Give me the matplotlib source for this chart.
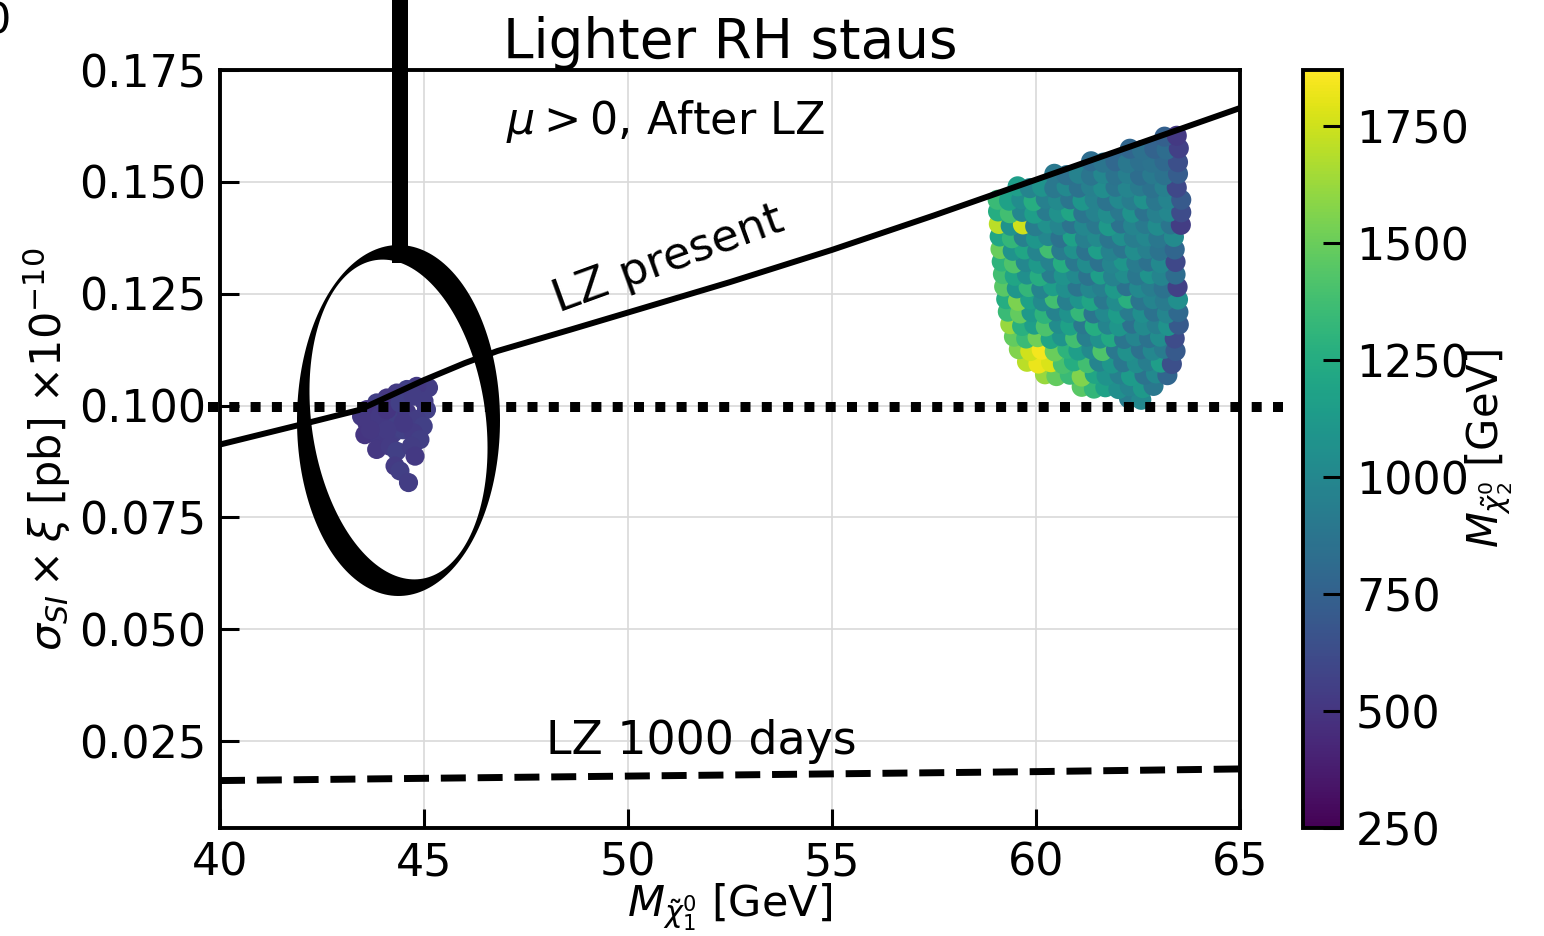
import numpy as np
import matplotlib
matplotlib.use('Agg')
import matplotlib.pyplot as plt
from matplotlib.path import Path
from matplotlib.patches import PathPatch, Rectangle
from matplotlib.transforms import Affine2D

# ---- data ----
# LZ present limit
lz_x = [40, 42, 43.4, 44.0, 45.0, 46.0, 46.8, 48.6, 50, 52.5, 55, 57.5, 60, 62.5, 65]
lz_y = [0.0913, 0.0958, 0.0990, 0.1015, 0.1057, 0.1095, 0.1122, 0.1170, 0.1208,
        0.1276, 0.1348, 0.1425, 0.1505, 0.1585, 0.1665]

# LZ 1000 days projection
lz1000_x = [40, 45, 50, 55, 60, 65]
lz1000_y = [0.0162, 0.0167, 0.0172, 0.0177, 0.0182, 0.0188]

# horizontal reference
ref_level = 0.0996

# lighter cluster (M_chi1 ~ 44-45 GeV)
left_x = [45.11, 44.82, 44.58, 44.33, 44.09, 43.84, 43.60, 43.47, 45.06, 45.00,
          43.60, 43.92, 44.25, 44.58, 44.82, 44.98, 43.55, 43.92, 44.25, 44.49,
          44.74, 44.90, 43.84, 44.17, 44.33, 44.69, 44.78, 44.29, 44.41, 44.62,
          43.92, 44.09, 44.41, 44.74, 44.49, 44.09, 43.68]
left_y = [0.1040, 0.1043, 0.1036, 0.1028, 0.1017, 0.1006, 0.0991, 0.0976, 0.0991, 0.1010,
          0.0961, 0.0961, 0.0976, 0.0984, 0.0969, 0.0954, 0.0935, 0.0924, 0.0939, 0.0946,
          0.0939, 0.0924, 0.0902, 0.0909, 0.0898, 0.0909, 0.0887, 0.0865, 0.0854, 0.0828,
          0.0976, 0.0991, 0.1006, 0.1021, 0.0961, 0.0946, 0.0946]
left_c = [540, 520, 560, 530, 510, 550, 500, 520, 560, 540,
          510, 530, 550, 520, 540, 560, 500, 520, 540, 560,
          530, 550, 510, 530, 560, 540, 520, 530, 550, 540,
          520, 500, 560, 540, 520, 530, 510]

# heavier cluster (M_chi1 ~ 59-64 GeV), written row by row from the bottom
right_x = [
    62.28, 62.58,
    61.12, 61.42, 61.70, 62.02, 62.30, 62.62, 62.88,
    60.22, 60.50, 60.83, 61.12, 61.44, 61.73, 62.05, 62.33, 62.66, 62.94, 63.22,
    59.78, 60.06, 60.37, 60.66, 60.93, 61.27, 61.55, 61.86, 62.14, 62.47, 62.74, 63.06, 63.33,
    59.58, 59.86, 60.14, 60.46, 60.77, 61.04, 61.36, 61.63, 61.96, 62.24, 62.57, 62.86, 63.14, 63.42,
    59.46, 59.76, 60.04, 60.36, 60.64, 60.96, 61.24, 61.57, 61.84, 62.16, 62.44, 62.77, 63.04, 63.40,
    59.37, 59.66, 59.96, 60.24, 60.56, 60.84, 61.16, 61.44, 61.76, 62.04, 62.36, 62.64, 62.96, 63.24, 63.50,
    59.31, 59.61, 59.89, 60.21, 60.49, 60.81, 61.09, 61.41, 61.69, 62.01, 62.29, 62.61, 62.89, 63.21, 63.49,
    59.27, 59.56, 59.86, 60.17, 60.46, 60.76, 61.07, 61.36, 61.66, 61.97, 62.26, 62.56, 62.87, 63.16, 63.48,
    59.22, 59.53, 59.82, 60.13, 60.42, 60.73, 61.02, 61.33, 61.62, 61.93, 62.22, 62.53, 62.82, 63.13, 63.47,
    59.19, 59.48, 59.78, 60.09, 60.38, 60.68, 60.99, 61.28, 61.58, 61.89, 62.18, 62.48, 62.79, 63.08, 63.42,
    59.16, 59.46, 59.75, 60.06, 60.35, 60.66, 60.96, 61.25, 61.56, 61.86, 62.15, 62.46, 62.76, 63.06, 63.42,
    59.13, 59.43, 59.72, 60.03, 60.33, 60.62, 60.93, 61.23, 61.52, 61.83, 62.13, 62.42, 62.73, 63.03, 63.40,
    59.11, 59.41, 59.70, 60.00, 60.30, 60.60, 60.90, 61.20, 61.50, 61.80, 62.10, 62.40, 62.70, 63.00, 63.38,
    59.09, 59.38, 59.68, 59.98, 60.28, 60.58, 60.88, 61.18, 61.48, 61.78, 62.08, 62.38, 62.68, 62.98, 63.30, 63.55,
    59.07, 59.36, 59.66, 59.96, 60.26, 60.56, 60.86, 61.16, 61.46, 61.76, 62.06, 62.36, 62.66, 62.96, 63.26, 63.56,
    59.06, 59.34, 59.64, 59.94, 60.24, 60.54, 60.84, 61.14, 61.44, 61.74, 62.04, 62.34, 62.64, 62.94, 63.24, 63.56,
    59.55, 59.85, 60.15, 60.45, 60.75, 61.05, 61.35, 61.65, 61.95, 62.25, 62.55, 62.85, 63.15, 63.45,
    60.45, 60.75, 61.05, 61.35, 61.65, 61.95, 62.25, 62.55, 62.85, 63.15, 63.48,
    61.35, 61.65, 61.95, 62.25, 62.55, 62.85, 63.15, 63.48,
    62.30, 62.60, 62.90, 63.20, 63.50,
    63.15, 63.45,
]
right_y = [
    0.1016, 0.1013,
    0.1042, 0.1038, 0.1041, 0.1037, 0.1043, 0.1039, 0.1044,
    0.1070, 0.1066, 0.1069, 0.1065, 0.1071, 0.1067, 0.1070, 0.1066, 0.1069, 0.1072, 0.1068,
    0.1098, 0.1094, 0.1097, 0.1093, 0.1099, 0.1095, 0.1098, 0.1094, 0.1097, 0.1095, 0.1099, 0.1096, 0.1093,
    0.1126, 0.1122, 0.1125, 0.1121, 0.1127, 0.1123, 0.1126, 0.1122, 0.1125, 0.1121, 0.1126, 0.1123, 0.1127, 0.1122,
    0.1154, 0.1150, 0.1153, 0.1149, 0.1155, 0.1151, 0.1154, 0.1150, 0.1153, 0.1149, 0.1155, 0.1151, 0.1154, 0.1150,
    0.1182, 0.1178, 0.1181, 0.1177, 0.1183, 0.1179, 0.1182, 0.1178, 0.1181, 0.1177, 0.1183, 0.1179, 0.1182, 0.1178, 0.1181,
    0.1210, 0.1206, 0.1209, 0.1205, 0.1211, 0.1207, 0.1210, 0.1206, 0.1209, 0.1205, 0.1211, 0.1207, 0.1210, 0.1206, 0.1209,
    0.1238, 0.1234, 0.1237, 0.1233, 0.1239, 0.1235, 0.1238, 0.1234, 0.1237, 0.1233, 0.1239, 0.1235, 0.1238, 0.1234, 0.1237,
    0.1266, 0.1262, 0.1265, 0.1261, 0.1267, 0.1263, 0.1266, 0.1262, 0.1265, 0.1261, 0.1267, 0.1263, 0.1266, 0.1262, 0.1265,
    0.1294, 0.1290, 0.1293, 0.1289, 0.1295, 0.1291, 0.1294, 0.1290, 0.1293, 0.1289, 0.1295, 0.1291, 0.1294, 0.1290, 0.1293,
    0.1322, 0.1318, 0.1321, 0.1317, 0.1323, 0.1319, 0.1322, 0.1318, 0.1321, 0.1317, 0.1323, 0.1319, 0.1322, 0.1318, 0.1321,
    0.1350, 0.1346, 0.1349, 0.1345, 0.1351, 0.1347, 0.1350, 0.1346, 0.1349, 0.1345, 0.1351, 0.1347, 0.1350, 0.1346, 0.1349,
    0.1378, 0.1374, 0.1377, 0.1373, 0.1379, 0.1375, 0.1378, 0.1374, 0.1377, 0.1373, 0.1379, 0.1375, 0.1378, 0.1374, 0.1377,
    0.1406, 0.1402, 0.1405, 0.1401, 0.1407, 0.1403, 0.1406, 0.1402, 0.1405, 0.1401, 0.1407, 0.1403, 0.1406, 0.1402, 0.1405, 0.1404,
    0.1434, 0.1430, 0.1433, 0.1429, 0.1435, 0.1431, 0.1434, 0.1430, 0.1433, 0.1429, 0.1435, 0.1431, 0.1434, 0.1430, 0.1433, 0.1432,
    0.1460, 0.1458, 0.1461, 0.1457, 0.1462, 0.1459, 0.1461, 0.1458, 0.1461, 0.1457, 0.1462, 0.1459, 0.1461, 0.1458, 0.1461, 0.1460,
    0.1490, 0.1486, 0.1489, 0.1486, 0.1490, 0.1487, 0.1490, 0.1486, 0.1489, 0.1487, 0.1490, 0.1486, 0.1489, 0.1487,
    0.1518, 0.1515, 0.1518, 0.1514, 0.1518, 0.1515, 0.1518, 0.1514, 0.1517, 0.1515, 0.1518,
    0.1546, 0.1543, 0.1546, 0.1542, 0.1546, 0.1543, 0.1546, 0.1544,
    0.1574, 0.1571, 0.1574, 0.1572, 0.1575,
    0.1601, 0.1603,
]
right_c = [
    930, 1010,
    1450, 1320, 1180, 1050, 980, 1120, 900,
    1620, 1480, 1350, 1560, 1200, 1080, 950, 1130, 870, 1010, 780,
    1700, 1820, 1780, 1400, 1250, 1380, 980, 1100, 890, 1040, 930, 1150, 640,
    1560, 1750, 1840, 1500, 1300, 1150, 1020, 1420, 900, 1060, 850, 1000, 920, 700,
    1480, 1350, 1520, 1200, 1080, 1380, 940, 1060, 1230, 880, 990, 860, 1040, 620,
    1620, 1280, 1150, 1410, 1030, 1180, 900, 1250, 980, 1100, 850, 1020, 940, 1080, 700,
    1350, 1480, 1120, 1300, 960, 1070, 1330, 880, 1010, 1140, 920, 1050, 860, 990, 800,
    1250, 1550, 1180, 1020, 1380, 940, 1090, 1200, 900, 1030, 1280, 880, 980, 920, 1050,
    1450, 1100, 1320, 980, 1150, 1050, 880, 1000, 940, 1120, 860, 1010, 930, 860, 560,
    1380, 1200, 1050, 1260, 930, 1080, 1010, 870, 1150, 960, 1040, 890, 1080, 980, 820,
    1300, 1420, 1000, 1120, 960, 1250, 900, 1030, 860, 990, 1100, 920, 850, 1010, 600,
    1500, 1080, 1200, 980, 1380, 920, 1060, 870, 1150, 960, 880, 1040, 950, 870, 780,
    1200, 1320, 950, 1100, 1000, 860, 1180, 940, 1020, 880, 1050, 930, 1000, 890, 1020,
    1700, 1080, 1750, 930, 1060, 990, 870, 1000, 900, 1120, 860, 980, 910, 1030, 880, 540,
    1250, 1380, 1000, 1150, 920, 1060, 1200, 880, 970, 1040, 900, 1080, 860, 950, 1000, 620,
    1350, 1180, 1040, 1260, 950, 1020, 880, 1100, 960, 870, 1010, 930, 1060, 890, 980, 700,
    1150, 980, 1080, 900, 1010, 860, 950, 1040, 880, 990, 920, 860, 950, 600,
    900, 850, 960, 880, 1000, 870, 940, 820, 910, 860, 720,
    820, 880, 790, 900, 840, 870, 800, 640,
    780, 850, 760, 820, 560,
    740, 520,
]

xticks = [40, 45, 50, 55, 60, 65]
yticks = [0.025, 0.050, 0.075, 0.100, 0.125, 0.150, 0.175]
cticks = [250, 500, 750, 1000, 1250, 1500, 1750]

# ---- plot ----
plt.rcParams.update({'font.family': 'DejaVu Sans', 'font.size': 32})

W, H = 1544, 936
fig = plt.figure(figsize=(W / 100, H / 100), dpi=100)
ax = fig.add_axes([220 / W, 1 - 828 / H, 1020 / W, 758 / H])
cax = fig.add_axes([1303 / W, 1 - 828 / H, 39 / W, 758 / H])

ax.grid(color='#d9d9d9', lw=1.2, zorder=0)
ax.set_axisbelow(True)

sc = ax.scatter(right_x, right_y, c=right_c, cmap='viridis', vmin=250, vmax=1870,
                s=210, edgecolors='none', zorder=2)
ax.scatter(left_x, left_y, c=left_c, cmap='viridis', vmin=250, vmax=1870,
           s=190, edgecolors='none', zorder=2)

ax.plot(lz_x, lz_y, color='black', lw=4.3, zorder=3, solid_capstyle='butt')
ax.plot(lz1000_x, lz1000_y, color='black', lw=5, ls=(0, (3.6, 1.7)), zorder=3)
ax.plot([39.7, 66.05], [ref_level, ref_level], color='black', lw=7.2,
        ls=(0, (1.0, 1.13)), clip_on=False, zorder=3)

ax.text(50.98, 0.1326, 'LZ present', rotation=20, rotation_mode='anchor',
        ha='center', va='center', fontsize=32.5)
ax.text(51.8, 0.0250, 'LZ 1000 days', ha='center', va='center', fontsize=33)
ax.text(47.0, 0.1634, r'$\mu > 0$, After LZ', ha='left', va='center', fontsize=32)

ax.set_xlim(40, 65)
ax.set_ylim(0.0056, 0.175)
ax.set_xticks(xticks)
ax.set_yticks(yticks)
ax.set_yticklabels(['%.3f' % v for v in yticks])
ax.tick_params(direction='in', length=14, width=2.2, pad=10, labelsize=32)
for s in ax.spines.values():
    s.set_linewidth(2.8)

ax.set_title('Lighter RH staus', fontsize=39.5, pad=6)
ax.set_xlabel(r'$M_{\tilde{\chi}_1^0}$ [GeV]', fontsize=31, labelpad=-3)
ax.set_ylabel(r'$\sigma_{SI}\times\xi$ [pb] $\times 10^{-10}$', fontsize=31, labelpad=4)

cbar = fig.colorbar(sc, cax=cax, ticks=cticks)
cbar.ax.tick_params(direction='in', length=14, width=2.2, pad=10, labelsize=32)
cbar.outline.set_linewidth(2.8)
cbar.set_label(r'$M_{\tilde{\chi}_2^0}$ [GeV]', fontsize=30, labelpad=-4)

# hand-drawn style ring and pointer around the light cluster (pixel coords)
px = Affine2D().scale(1 / W, 1 / H) + fig.transFigure


def ellipse_pts(cx, cy, a, b, ang):
    t = np.linspace(0, 2 * np.pi, 200)
    ca, sa = np.cos(np.radians(ang)), np.sin(np.radians(ang))
    ex, ey = a * np.cos(t), b * np.sin(t)
    return np.column_stack([cx + ex * ca - ey * sa, cy + ex * sa + ey * ca])


outer = ellipse_pts(398.5, H - 420.5, 101.5, 175.5, 0)
inner = ellipse_pts(398.5, H - 419.5, 87, 161, 8)[::-1]
verts = np.concatenate([outer, inner])
codes = ([Path.MOVETO] + [Path.LINETO] * (len(outer) - 2) + [Path.CLOSEPOLY]) * 2
ring = PathPatch(Path(verts, codes), facecolor='black', edgecolor='none',
                 transform=px, clip_on=False, zorder=10)
fig.add_artist(ring)
fig.add_artist(Rectangle((392, H - 263), 16, 270, facecolor='black', edgecolor='none',
                         transform=px, clip_on=False, zorder=10))

# clipped label from the neighbouring panel
fig.text(-17 / W, 1 - 34 / H, '0', fontsize=31, ha='left', va='baseline')

fig.savefig('out.png', dpi=100)
